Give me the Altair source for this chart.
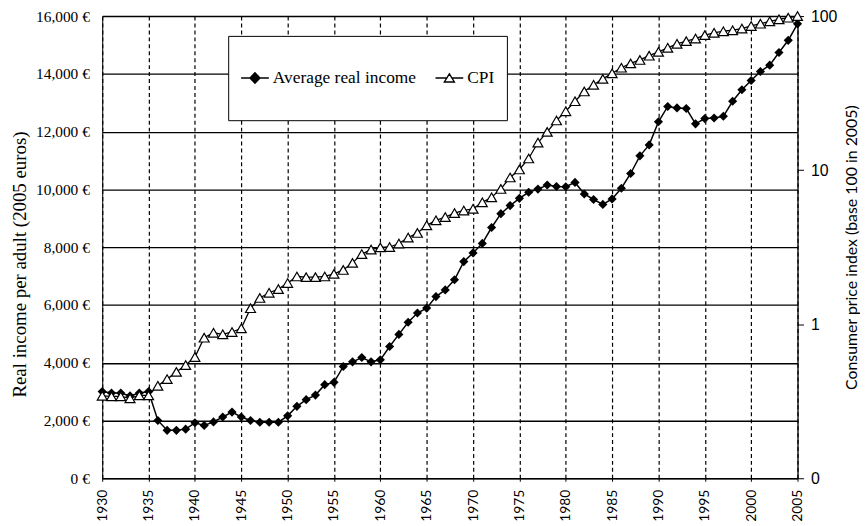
import altair as alt
import pandas as pd

years = list(range(1930, 2006))
income = [3000, 2950, 2950, 2850, 2950, 3000, 2000, 1660, 1660, 1700,
          1920, 1830, 1950, 2120, 2290, 2120, 2000, 1940, 1940, 1940,
          2160, 2490, 2720, 2880, 3240, 3320, 3870, 4030, 4180, 4030,
          4100, 4560, 4980, 5400, 5720, 5890, 6290, 6520, 6870, 7500,
          7800, 8130, 8680, 9160, 9440, 9690, 9900, 10010, 10150, 10100,
          10090, 10240, 9840, 9650, 9480, 9670, 10040, 10550, 11160, 11540,
          12340, 12870, 12820, 12800, 12270, 12450, 12470, 12530, 13050, 13450,
          13770, 14080, 14300, 14740, 15160, 15730]
cpi = [0.343, 0.34, 0.34, 0.33, 0.345, 0.345, 0.398, 0.44, 0.49, 0.543,
       0.612, 0.817, 0.88, 0.86, 0.89, 0.94, 1.27, 1.48, 1.6, 1.69,
       1.85, 2.04, 2.02, 2.02, 2.04, 2.12, 2.25, 2.5, 2.85, 3.05,
       3.15, 3.17, 3.34, 3.65, 3.91, 4.38, 4.72, 4.96, 5.26, 5.47,
       5.61, 6.18, 6.66, 7.55, 8.96, 10.1, 11.9, 15.1, 17.7, 21.0,
       24.1, 28.0, 32.4, 35.8, 39.1, 42.5, 46.2, 49.3, 51.9, 55.3,
       58.6, 62.2, 66.0, 68.7, 71.4, 75.2, 77.8, 79.7, 80.9, 82.9,
       86.2, 89.2, 92.4, 95.2, 97.6, 100.0]
series_names = ["Average real income", "CPI"]
x_ticks = list(range(1930, 2006, 5))
left_ticks = list(range(0, 16001, 2000))
right_ticks = [0.1, 1, 10, 100]

df = pd.DataFrame({"year": years, "income": income, "cpi": cpi})

x_enc = alt.X(
    "year:Q",
    scale=alt.Scale(domain=[1930, 2005], nice=False, zero=False),
    axis=alt.Axis(values=x_ticks, format="d", labelAngle=270, title=None,
                  grid=True, gridDash=[4, 3], gridColor="black", gridWidth=1.2,
                  gridOpacity=1, labelFont="Lato", labelFontSize=14,
                  labelColor="black", ticks=True, tickSize=3, tickColor="black",
                  domainColor="black", labelPadding=8),
)

y_left = alt.Y(
    "income:Q",
    scale=alt.Scale(domain=[0, 16000], nice=False),
    axis=alt.Axis(orient="left", values=left_ticks,
                  labelExpr="format(datum.value, ',') + ' €'",
                  title="Real income per adult (2005 euros)",
                  grid=True, gridColor="black", gridWidth=1.4, gridOpacity=1,
                  ticks=False, domainColor="black",
                  labelFont="Liberation Serif", labelFontSize=15.5,
                  labelColor="black", labelPadding=13,
                  titleFont="Liberation Serif", titleFontSize=19,
                  titleFontWeight="normal", titleColor="black", titlePadding=6,
                  titleY=250),
)

y_right = alt.Y(
    "cpi:Q",
    scale=alt.Scale(type="log", domain=[0.1, 100], nice=False),
    axis=alt.Axis(orient="right", values=right_ticks,
                  labelExpr="datum.value < 0.5 ? '0' : format(datum.value, 'd')",
                  title="Consumer price index (base 100 in 2005)",
                  titleAngle=270, titleBaseline="top",
                  grid=False, ticks=True, tickSize=6, tickColor="black",
                  domainColor="black", domainWidth=1.3,
                  labelFont="Liberation Sans", labelFontSize=16,
                  labelColor="black", labelPadding=7,
                  titleFont="Lato", titleFontSize=16, titleFontWeight="normal",
                  titleColor="black", titlePadding=7),
)

base = alt.Chart(df)
income_line = base.mark_line(color="black", strokeWidth=1.5).encode(x=x_enc, y=y_left)
income_pts = base.mark_point(shape="diamond", filled=True, color="black",
                             size=85, opacity=1).encode(x=x_enc, y=y_left)
left = alt.layer(income_line, income_pts)

cpi_line = base.mark_line(color="black", strokeWidth=1.3).encode(x=x_enc, y=y_right)
cpi_pts = base.mark_point(shape="triangle-up", filled=True, fill="white",
                          stroke="black", strokeWidth=1.2, size=100,
                          opacity=1).encode(x=x_enc, y=y_right)
right = alt.layer(cpi_line, cpi_pts)

diamond_path = "M-1,0L1,0M0,-0.38L0.36,0L0,0.38L-0.36,0Z"
triangle_path = "M-1,0L-0.19,0M0.19,0L1,0M0,-0.3L0.36,0.28L-0.36,0.28Z"

leg = alt.Legend(title=None, orient="none", legendX=127, legendY=20,
                 direction="horizontal", symbolSize=784, clipHeight=61,
                 labelOffset=3, columnPadding=18, padding=12,
                 fillColor="white", strokeColor="black",
                 labelFont="Liberation Serif", labelFontSize=17.5,
                 labelColor="black", symbolStrokeColor="black",
                 symbolStrokeWidth=1.4, symbolOpacity=1)

legend_df = pd.DataFrame({"series": series_names})
legend_layer = alt.Chart(legend_df).transform_filter("false").mark_point(
    filled=True, strokeWidth=1.4, opacity=1
).encode(
    shape=alt.Shape("series:N", scale=alt.Scale(domain=series_names,
                    range=[diamond_path, triangle_path]), legend=leg),
    fill=alt.Fill("series:N", scale=alt.Scale(domain=series_names,
                  range=["black", "white"]), legend=leg),
    stroke=alt.Stroke("series:N", scale=alt.Scale(domain=series_names,
                      range=["black", "black"]), legend=leg),
)

chart = alt.layer(left, right, legend_layer).resolve_scale(
    y="independent"
).properties(
    width=701, height=466, padding={"left": 2, "top": -2, "right": 0, "bottom": 0}
).configure_view(stroke="black", strokeWidth=1.3).configure(background="white")

chart.save("out.html", embed_options={"renderer": "svg", "actions": False})
